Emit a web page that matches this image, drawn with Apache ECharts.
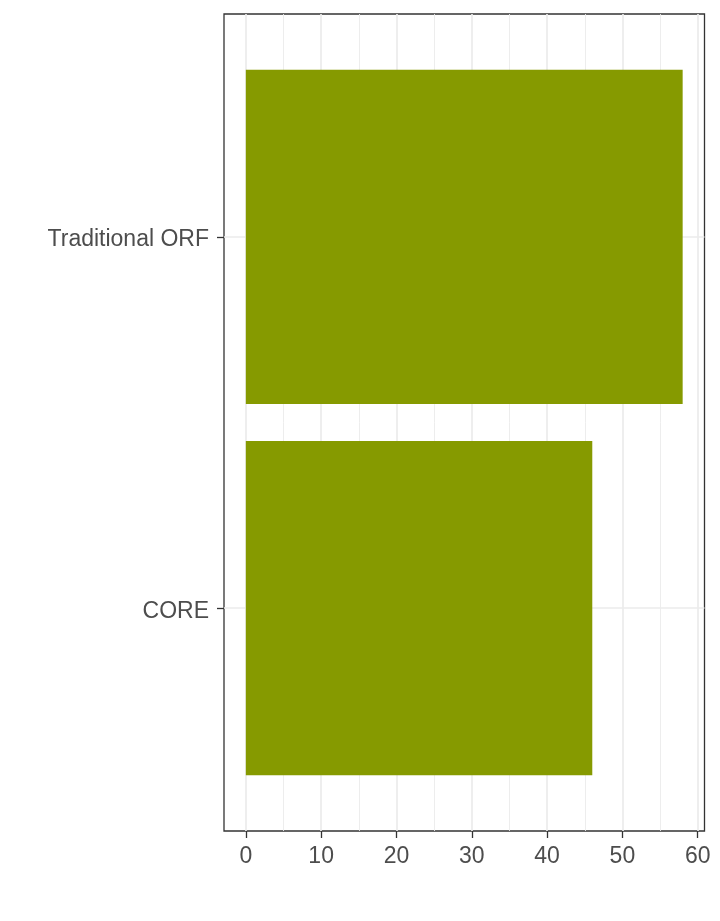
<!DOCTYPE html>
<html>
<head>
<meta charset="utf-8">
<script src="https://cdn.jsdelivr.net/npm/echarts@6/dist/echarts.min.js"></script>
<style>
  html, body { margin: 0; padding: 0; background: #fff; }
  #chart { width: 720px; height: 921px; }
</style>
</head>
<body>
<div id="chart"></div>
<script>
const categories = ["CORE", "Traditional ORF"];
const values = [46, 58];
const majorTicks = [0, 10, 20, 30, 40, 50, 60];
const minorTicks = [5, 15, 25, 35, 45, 55];

// category i sits at position i + 1 like ggplot's discrete scale
const catPos = categories.map((_, i) => i + 1);
const barData = values.map((v, i) => [v, catPos[i]]);

const font = "Liberation Sans, Arial, sans-serif";
const gridColor = "#ebebeb";

const chart = echarts.init(document.getElementById("chart"));

const option = {
  backgroundColor: "#ffffff",
  animation: false,
  grid: {
    left: 224,
    right: 15.5,
    top: 14,
    bottom: 90,
    show: true,
    borderColor: "#333333",
    borderWidth: 1.3,
    backgroundColor: "transparent",
  },
  xAxis: [
    {
      type: "value",
      min: -2.9,
      max: 60.9,
      position: "bottom",
      axisLine: { show: false, onZero: false },
      axisTick: {
        show: true,
        inside: false,
        length: 7,
        customValues: majorTicks,
        lineStyle: { color: "#333333", width: 1.3 },
      },
      axisLabel: {
        customValues: majorTicks,
        color: "#4d4d4d",
        fontSize: 23,
        fontFamily: font,
        margin: 14,
      },
      splitLine: { show: true, lineStyle: { color: gridColor, width: 1.7 } },
    },
    {
      type: "value",
      min: -2.9,
      max: 60.9,
      position: "top",
      axisLine: { show: false, onZero: false },
      axisTick: { show: false, customValues: minorTicks },
      axisLabel: { show: false },
      splitLine: { show: true, lineStyle: { color: gridColor, width: 0.9 } },
    },
  ],
  yAxis: {
    type: "value",
    min: 0.4,
    max: 2.6,
    position: "left",
    axisLine: { show: false, onZero: false },
    axisTick: {
      show: true,
      inside: false,
      length: 7,
      customValues: catPos,
      lineStyle: { color: "#333333", width: 1.3 },
    },
    axisLabel: {
      customValues: catPos,
      formatter: (v) => "{c|" + (categories[Math.round(v) - 1] || "") + "}",
      margin: 15,
      rich: {
        c: {
          color: "#4d4d4d",
          fontSize: 23,
          fontFamily: font,
          padding: [6, 0, 0, 0],
        },
      },
    },
    splitLine: { show: true, lineStyle: { color: gridColor, width: 1.7 } },
  },
  series: [
    {
      type: "custom",
      xAxisIndex: 0,
      yAxisIndex: 0,
      data: barData,
      renderItem: (params, api) => {
        const v = api.value(0);
        const y = api.value(1);
        const p0 = api.coord([0, y + 0.45]);
        const p1 = api.coord([v, y - 0.45]);
        return {
          type: "rect",
          shape: { x: p0[0], y: p0[1], width: p1[0] - p0[0], height: p1[1] - p0[1] },
          style: { fill: "#869a00" },
        };
      },
    },
  ],
};

chart.setOption(option);
</script>
</body>
</html>
